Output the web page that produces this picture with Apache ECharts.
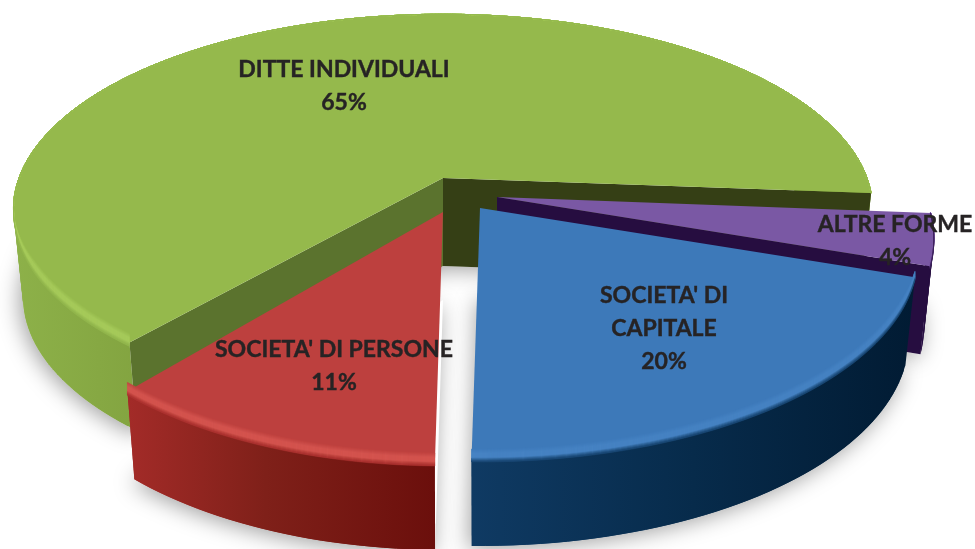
<!DOCTYPE html>
<html><head><meta charset="utf-8">
<style>html,body{margin:0;padding:0;background:#fff}#c{width:975px;height:549px}</style>
<script src="https://cdn.jsdelivr.net/npm/echarts@6/dist/echarts.min.js"></script>
</head><body><div id="c"></div>
<script>
const categories = ['DITTE INDIVIDUALI', 'ALTRE FORME', "SOCIETA' DI CAPITALE", "SOCIETA' DI PERSONE"];
const values = [65, 4, 20, 11];
const labelLines = [['DITTE INDIVIDUALI'], ['ALTRE FORME'], ["SOCIETA' DI", 'CAPITALE'], ["SOCIETA' DI PERSONE"]];

const START_DEG = 40.5;
const DEPTH = 88, CONVERGE = 0.978;
const geoms = [
  {apex:[443,178], rx:424, ry:190, p:0.16},
  {apex:[497,197], rx:428, ry:200, p:0.2},
  {apex:[480,208], rx:430, ry:200, p:0.2},
  {apex:[443,212], rx:412, ry:200, p:0.2}
];
const labelAnchors = [[344,70],[895,225],[664,296],[334,350]];
const LINE_H = 33;
const styles = [
  {top:'#95b94c', hi:'#a6ca5b', wall:[[0,'#8db149'],[0.2,'#7f9f3d'],[1,'#7a9a3a']], cutA:'#5b732e', cutB:'#353f15'},
  {top:'#7a58a4', hi:'#7a58a4', wall:[[0,'#260d40'],[1,'#260d40']], cutA:null, cutB:'#260d40'},
  {top:'#3d79b9', hi:'#4683c3', wall:[[0,'#0f3a63'],[0.5,'#072b4b'],[1,'#011b33']], cutA:null, cutB:null},
  {top:'#bd403e', hi:'#d4544f', wall:[[0,'#a32b28'],[0.45,'#7f2019'],[1,'#6b0f0c']], cutA:null, cutB:null}
];
const total = values.reduce((a,b)=>a+b,0);

function project(g, thetaDeg, dy, k, band) {
  const t = thetaDeg*Math.PI/180;
  const u = -Math.sin(t), v = Math.cos(t);
  const w = 1 - g.p*v;
  const extra = band ? band*Math.max(0, Math.min(1, (v-0.05)/0.4)) : 0;
  return [g.apex[0] + k*g.rx*u/w, g.apex[1] + g.ry*v/w + dy + extra];
}
function arc(g, a0, a1, dy, k, band) {
  const pts = [], n = Math.max(8, Math.ceil(Math.abs(a1-a0)/1.5));
  for (let i=0;i<=n;i++) pts.push(project(g, a0+(a1-a0)*i/n, dy, k, band));
  return pts;
}
function angles(idx) {
  let s = START_DEG;
  for (let i=0;i<idx;i++) s += values[i]/total*360;
  return [s, s + values[idx]/total*360];
}
function mix(a,b,f){
  const pa=parseInt(a.slice(1),16), pb=parseInt(b.slice(1),16);
  const c=[16,8,0].map(s=>Math.round(((pa>>s)&255)*(1-f)+((pb>>s)&255)*f));
  return 'rgb('+c.join(',')+')';
}
function poly(points, fill, extra) {
  return {type:'polygon', shape:{points}, style:Object.assign({fill}, extra||{})};
}
function renderShadow(params, api) {
  const i = api.value(1), [a0,a1] = angles(i), g = geoms[i];
  const bottomApex = [g.apex[0], g.apex[1]+DEPTH];
  return poly([bottomApex].concat(arc(g,a0,a1,DEPTH,CONVERGE)), '#ffffff',
    {shadowColor:'rgba(0,0,0,0.38)', shadowBlur:22, shadowOffsetX:-3, shadowOffsetY:3});
}
function renderSlice(params, api) {
  const i = api.value(1), [a0,a1] = angles(i), g = geoms[i], st = styles[i], ap = g.apex;
  const topArc = arc(g,a0,a1,0,1), botArc = arc(g,a0,a1,DEPTH,CONVERGE);
  const children = [];
  const xs = topArc.concat(botArc).map(p=>p[0]);
  const minX = Math.min.apply(null,xs), maxX = Math.max.apply(null,xs);
  const wallFill = new echarts.graphic.LinearGradient(minX,0,maxX,0,
    st.wall.map(s=>({offset:s[0],color:s[1]})), true);
  for (let j=0; j+1<topArc.length; j++) {
    const e = Math.min(j+2, topArc.length-1);
    children.push(poly([topArc[j], topArc[e], botArc[e], botArc[j]], wallFill));
  }
  const cut = (a, color) => {
    if (!color) return;
    const e = project(g,a,0,1), b = project(g,a,DEPTH,CONVERGE);
    children.push(poly([ap, e, b, [ap[0],ap[1]+DEPTH]], color));
  };
  cut(a0, st.cutA);
  cut(a1, st.cutB);
  children.push(poly([ap].concat(topArc), st.top));
  const wallStart = st.wall[0][1];
  for (let d=-9; d<4; d++) {
    let c;
    if (d < -5) c = mix(st.top, st.hi, (d+10)/5);
    else if (d < 0) c = st.hi;
    else c = mix(st.hi, wallStart, (d+1)/5);
    children.push(poly(arc(g,a0,a1,0,1,d).concat(arc(g,a0,a1,0,1,d+1).reverse()), c, {stroke:c, lineWidth:0.5}));
  }
  return {type:'group', children};
}
function renderLabel(params, api) {
  const i = api.value(1), a = labelAnchors[i];
  const lines = labelLines[i].concat([api.value(0)+'%']);
  return {type:'group', children: lines.map((t,k)=>({
    type:'text', x:a[0], y:a[1]+k*LINE_H,
    style:{text:t, x:0, y:0, align:'center', verticalAlign:'middle',
      font:'bold 23px Lato, "Open Sans", sans-serif', fill:'#262324', stroke:'#262324', lineWidth:0.4}
  }))};
}
const data = values.map((v,i)=>({name:categories[i], value:[v,i]}));
const chart = echarts.init(document.getElementById('c'), null, {renderer:'canvas'});
chart.setOption({
  animation:false,
  backgroundColor:'#ffffff',
  series:[
    {type:'custom', coordinateSystem:'none', renderItem:renderShadow, data, z:1, silent:true},
    {type:'custom', coordinateSystem:'none', renderItem:renderSlice, data, z:2, silent:true},
    {type:'custom', coordinateSystem:'none', renderItem:renderLabel, data, z:3, silent:true}
  ]
});
</script></body></html>
